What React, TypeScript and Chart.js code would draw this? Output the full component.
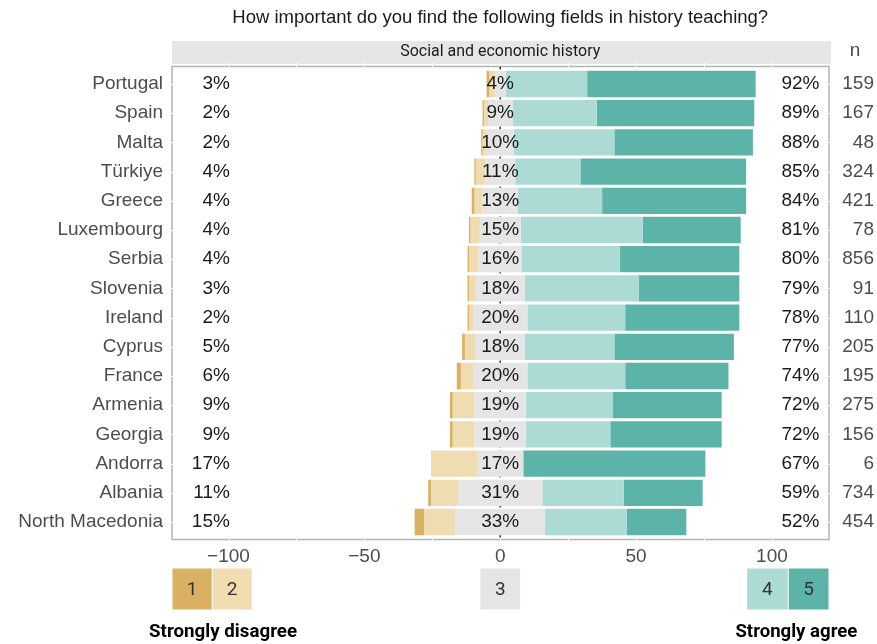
import React, { useEffect, useRef } from "react";
import { Chart, registerables } from "chart.js";

Chart.register(...registerables);

const title = "How important do you find the following fields in history teaching?";
const facetLabel = "Social and economic history";

const countries = [
  "Portugal", "Spain", "Malta", "Türkiye", "Greece", "Luxembourg", "Serbia", "Slovenia",
  "Ireland", "Cyprus", "France", "Armenia", "Georgia", "Andorra", "Albania", "North Macedonia",
];
// response shares (%) per answer level 1..5
const level1 = [1, 0.5, 0.5, 0.5, 1, 0.5, 0.5, 0.5, 0.5, 1, 1.5, 1, 1, 0, 1, 3.5];
const level2 = [2, 1.5, 1.5, 3.5, 3, 3.5, 3.5, 2.5, 1.5, 4, 4.5, 8, 8, 17, 10, 11.5];
const level3 = [4, 9, 10, 11, 13, 15, 16, 18, 20, 18, 20, 19, 19, 17, 31, 33];
const level4 = [30, 31, 37, 24, 31, 45, 36, 42, 36, 33, 36, 32, 31, 0, 30, 30];
const level5 = [62, 58, 51, 61, 53, 36, 44, 37, 42, 44, 38, 40, 41, 67, 29, 22];
const respondents = [159, 167, 48, 324, 421, 78, 856, 91, 110, 205, 195, 275, 156, 6, 734, 454];

const xMin = -120.8;
const xMax = 121;
const xTicks = [-100, -50, 0, 50, 100];
const legendLevels = ["1", "2", "3", "4", "5"];
const legendLeftText = "Strongly disagree";
const legendRightText = "Strongly agree";

const COLORS = ["#dab062", "#f0dcb1", "#e5e5e5", "#acdbd5", "#5cb4a9"];
const FONT = '"Liberation Sans", Arial, sans-serif';

function fmtTick(v: number) {
  return v < 0 ? "\u2212" + Math.abs(v) : String(v);
}

const decorPlugin = {
  id: "decor",
  beforeDatasetsDraw(chart: any) {
    const { ctx, chartArea } = chart;
    const x = chart.scales.x;
    const y = chart.scales.y;
    const step = y.getPixelForValue(1) - y.getPixelForValue(0);
    const pTop = y.getPixelForValue(0) - 0.6 * step;
    const pBot = y.getPixelForValue(countries.length - 1) + 0.6 * step;
    const L = chartArea.left;
    const R = chartArea.right;
    ctx.save();
    // strip
    ctx.fillStyle = "#e6e6e6";
    ctx.fillRect(L, pTop - 25.5, R - L + 2, 23);
    // panel border
    ctx.strokeStyle = "#b3b3b3";
    ctx.lineWidth = 1.5;
    ctx.strokeRect(L, pTop, R - L, pBot - pTop);
    // white grid, visible only where it crosses frame/strip
    ctx.strokeStyle = "#ffffff";
    ctx.lineWidth = 1;
    for (let v = -100; v <= 100; v += 25) {
      const px = Math.round(x.getPixelForValue(v)) + 0.5;
      ctx.beginPath();
      ctx.moveTo(px, pTop - 4);
      ctx.lineTo(px, pBot + 1);
      ctx.stroke();
    }
    for (let i = 0; i < countries.length; i++) {
      const py = Math.round(y.getPixelForValue(i)) + 0.5;
      ctx.beginPath();
      ctx.moveTo(L - 1, py);
      ctx.lineTo(L + 1, py);
      ctx.moveTo(R - 1, py);
      ctx.lineTo(R + 1, py);
      ctx.stroke();
    }
    // dashed zero line
    ctx.strokeStyle = "#333333";
    ctx.lineWidth = 1.5;
    ctx.setLineDash([3, 3]);
    const zx = x.getPixelForValue(0);
    ctx.beginPath();
    ctx.moveTo(zx, pTop);
    ctx.lineTo(zx, pBot);
    ctx.stroke();
    ctx.restore();
  },
  afterDatasetsDraw(chart: any) {
    const { ctx, chartArea } = chart;
    const x = chart.scales.x;
    const y = chart.scales.y;
    const step = y.getPixelForValue(1) - y.getPixelForValue(0);
    const pTop = y.getPixelForValue(0) - 0.6 * step;
    const pBot = y.getPixelForValue(countries.length - 1) + 0.6 * step;
    const L = chartArea.left;
    const R = chartArea.right;
    ctx.save();
    ctx.textBaseline = "middle";

    // title
    ctx.font = `18.5px ${FONT}`;
    ctx.fillStyle = "#1a1a1a";
    ctx.textAlign = "center";
    ctx.fillText(title, x.getPixelForValue(0), 18);

    // strip text (condensed)
    const stripY = pTop - 14;
    ctx.font = `16px Roboto, sans-serif`;
    const sw = ctx.measureText(facetLabel).width;
    ctx.save();
    ctx.translate(x.getPixelForValue(0), stripY);
    ctx.scale(200 / sw, 1);
    ctx.fillStyle = "#1a1a1a";
    ctx.textAlign = "center";
    ctx.fillText(facetLabel, 0, 0);
    ctx.restore();

    // n header
    ctx.font = `19px ${FONT}`;
    ctx.fillStyle = "#4d4d4d";
    ctx.textAlign = "center";
    ctx.fillText("n", R + 26, stripY - 2);

    for (let i = 0; i < countries.length; i++) {
      const py = y.getPixelForValue(i);
      const dis = Math.round(level1[i] + level2[i]);
      const agr = Math.round(level4[i] + level5[i]);
      ctx.font = `19px ${FONT}`;
      // country label
      ctx.fillStyle = "#4d4d4d";
      ctx.textAlign = "right";
      ctx.fillText(countries[i], L - 9, py);
      // n
      ctx.fillText(String(respondents[i]), R + 45, py);
      // percentages
      ctx.fillStyle = "#1a1a1a";
      ctx.textAlign = "right";
      ctx.fillText(dis + "%", x.getPixelForValue(-99.5), py);
      ctx.textAlign = "center";
      ctx.fillText(level3[i] + "%", x.getPixelForValue(0), py);
      ctx.textAlign = "right";
      ctx.fillText(agr + "%", x.getPixelForValue(117.5), py);
    }

    // x tick labels
    ctx.font = `19px ${FONT}`;
    ctx.fillStyle = "#4d4d4d";
    ctx.textAlign = "center";
    for (const t of xTicks) {
      ctx.fillText(fmtTick(t), x.getPixelForValue(t), pBot + 17);
    }

    // legend boxes
    const boxes: [number, number][] = [[xMin, -106], [-106, -91.3], [-7.5, 7.5], [90.7, 106], [106, xMax]];
    const bTop = pBot + 29;
    const bH = 41;
    boxes.forEach((b, k) => {
      const x0 = x.getPixelForValue(b[0]);
      const x1 = x.getPixelForValue(b[1]);
      ctx.fillStyle = COLORS[k];
      ctx.fillRect(x0 + 0.5, bTop, x1 - x0 - 1, bH);
      ctx.fillStyle = "#333333";
      ctx.font = `19px Roboto, sans-serif`;
      ctx.textAlign = "center";
      ctx.fillText(legendLevels[k], (x0 + x1) / 2, bTop + bH / 2 + 1);
    });

    // legend captions (bold condensed)
    const capY = pBot + 93;
    const drawCond = (txt: string, cx: number, w: number) => {
      ctx.font = `bold 19px Roboto, sans-serif`;
      const mw = ctx.measureText(txt).width;
      ctx.save();
      ctx.translate(cx, capY);
      ctx.scale(w / mw, 1);
      ctx.fillStyle = "#000000";
      ctx.textAlign = "center";
      ctx.fillText(txt, 0, 0);
      ctx.restore();
    };
    drawCond(legendLeftText, x.getPixelForValue(-102), 148);
    drawCond(legendRightText, x.getPixelForValue(109), 122);

    ctx.restore();
  },
};

export default function App() {
  const ref = useRef<HTMLCanvasElement | null>(null);

  useEffect(() => {
    if (!ref.current) return;
    const seg = (i: number, k: number): [number, number] => {
      const half = level3[i] / 2;
      if (k === 0) return [-half - level2[i] - level1[i], -half - level2[i]];
      if (k === 1) return [-half - level2[i], -half];
      if (k === 2) return [-half, half];
      if (k === 3) return [half, half + level4[i]];
      return [half + level4[i], half + level4[i] + level5[i]];
    };
    const datasets = [0, 1, 2, 3, 4].map((k) => ({
      label: legendLevels[k],
      data: countries.map((_, i) => seg(i, k)),
      backgroundColor: COLORS[k],
      borderWidth: 0,
      categoryPercentage: 0.9,
      barPercentage: 1,
    }));
    const chart = new Chart(ref.current, {
      type: "bar",
      data: { labels: countries, datasets },
      options: {
        indexAxis: "y",
        responsive: false,
        animation: false,
        devicePixelRatio: 1,
        layout: { padding: { left: 172, right: 48, top: 69.4, bottom: 107.4 } },
        plugins: { legend: { display: false }, tooltip: { enabled: false } },
        scales: {
          x: { type: "linear", min: xMin, max: xMax, display: false, stacked: false },
          y: { type: "category", display: false, stacked: true, offset: true },
        },
      },
      plugins: [decorPlugin],
    } as any);
    return () => chart.destroy();
  }, []);

  return (
    <div style={{ position: "fixed", left: 0, top: 0, width: 877, height: 644, background: "#ffffff" }}>
      <canvas ref={ref} width={877} height={644} style={{ width: 877, height: 644 }} />
    </div>
  );
}
